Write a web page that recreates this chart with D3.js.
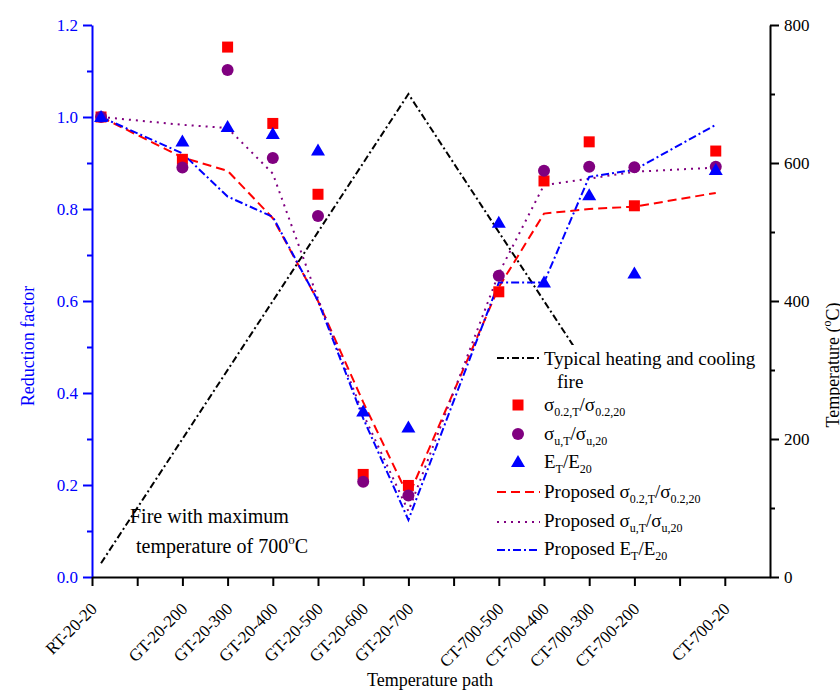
<!DOCTYPE html>
<html>
<head>
<meta charset="utf-8">
<script src="https://cdn.jsdelivr.net/npm/d3@7/dist/d3.min.js"></script>
<style>
body{margin:0;background:#fff}
text{font-family:"Liberation Serif","Times New Roman",serif}
</style>
</head>
<body>
<svg id="chart" width="840" height="700"></svg>
<script>
// temperature paths on the x axis
var categories = ["RT-20-20","GT-20-200","GT-20-300","GT-20-400","GT-20-500","GT-20-600","GT-20-700",
                  "CT-700-500","CT-700-400","CT-700-300","CT-700-200","CT-700-20"];
var labelPos = [0,2,3,4,5,6,7,9,10,11,12,14];
var pointPos = [0.2,2,3,4,5,6,7,9,10,11,12,13.8];

// test results
var sigma02 = [1.0,0.908,1.152,0.986,0.832,0.223,0.199,0.62,0.861,0.946,0.807,0.926];
var sigmaU  = [1.0,0.89,1.102,0.911,0.785,0.207,0.177,0.655,0.883,0.892,0.891,0.892];
var eRatio  = [1.0,0.947,0.978,0.963,0.927,0.36,0.325,0.77,0.64,0.83,0.66,0.885];

// proposed curves
var propSigma02 = [1.0,0.912,0.883,0.78,0.6,0.38,0.175,0.63,0.79,0.80,0.805,0.835];
var propSigmaU  = [1.0,0.983,0.976,0.877,0.605,0.354,0.143,0.66,0.852,0.866,0.881,0.89];
var propE       = [1.0,0.921,0.827,0.783,0.6,0.345,0.124,0.64,0.64,0.87,0.885,0.983];

// fire curve (right axis)
var firePos = [0.2,7,13.8];
var fireTemp = [20,700,20];

var yTicks = [0,0.2,0.4,0.6,0.8,1.0,1.2];
var yMinor = [0.1,0.3,0.5,0.7,0.9,1.1];
var tTicks = [0,200,400,600,800];
var tMinor = [100,300,500,700];

var svg = d3.select("#chart");
var mLeft = 92, mRight = 770, mTop = 25, mBottom = 577;

var x = d3.scaleLinear().domain([0,15]).range([mLeft,mRight]);
var y = d3.scaleLinear().domain([0,1.2]).range([mBottom,mTop]);
var yT = d3.scaleLinear().domain([0,800]).range([mBottom,mTop]);

// fire line first, legend box covers part of it
svg.append("path")
    .datum(d3.zip(firePos,fireTemp))
    .attr("d", d3.line().x(d=>x(d[0])).y(d=>yT(d[1])))
    .attr("fill","none").attr("stroke","#000").attr("stroke-width",2)
    .attr("stroke-dasharray","7,3,2,3");

var lines = [
  {vals:propSigma02, color:"#ff0000", dash:"9,5"},
  {vals:propSigmaU,  color:"#800080", dash:"2,5"},
  {vals:propE,       color:"#0000ff", dash:"8,3,2,3"}
];
var line = d3.line().x((d,i)=>x(pointPos[i])).y(d=>y(d));
lines.forEach(function(l){
  svg.append("path").datum(l.vals).attr("d",line)
    .attr("fill","none").attr("stroke",l.color).attr("stroke-width",2)
    .attr("stroke-dasharray",l.dash);
});

function square(g,cx,cy){ g.append("rect").attr("x",cx-5.5).attr("y",cy-5.5).attr("width",11).attr("height",11).attr("fill","#ff0000"); }
function circle(g,cx,cy){ g.append("circle").attr("cx",cx).attr("cy",cy).attr("r",6).attr("fill","#800080"); }
function triangle(g,cx,cy){ g.append("path").attr("d","M"+cx+","+(cy-7)+"L"+(cx+7)+","+(cy+5)+"L"+(cx-7)+","+(cy+5)+"Z").attr("fill","#0000ff"); }

var pts = svg.append("g");
sigma02.forEach((v,i)=>square(pts,x(pointPos[i]),y(v)));
sigmaU.forEach((v,i)=>circle(pts,x(pointPos[i]),y(v)));
eRatio.forEach((v,i)=>triangle(pts,x(pointPos[i]),y(v)));

// legend
var lg = svg.append("g");
lg.append("rect").attr("x",488).attr("y",345).attr("width",280).attr("height",222).attr("fill","#fff");
var lx0 = 497, lx1 = 540, tx = 544, fs = 19;
function sub(t,s,rest){ t.append("tspan").attr("font-size",12).attr("dy",5).text(s); t.append("tspan").attr("dy",-5).text(rest||""); }

lg.append("line").attr("x1",lx0).attr("x2",lx1).attr("y1",358).attr("y2",358)
  .attr("stroke","#000").attr("stroke-width",2).attr("stroke-dasharray","7,3,2,3");
lg.append("text").attr("x",tx).attr("y",365).attr("font-size",fs).text("Typical heating and cooling");
lg.append("text").attr("x",557).attr("y",388).attr("font-size",fs).text("fire");

square(lg,518,405);
var t1 = lg.append("text").attr("x",tx).attr("y",411).attr("font-size",fs).text("σ");
sub(t1,"0.2,T","/σ"); sub(t1,"0.2,20");
circle(lg,518,434);
var t2 = lg.append("text").attr("x",tx).attr("y",440).attr("font-size",fs).text("σ");
sub(t2,"u,T","/σ"); sub(t2,"u,20");
triangle(lg,518,462);
var t3 = lg.append("text").attr("x",tx).attr("y",468).attr("font-size",fs).text("E");
sub(t3,"T","/E"); sub(t3,"20");

var legLines = [{y:492,l:lines[0]},{y:522,l:lines[1]},{y:550,l:lines[2]}];
legLines.forEach(function(d){
  lg.append("line").attr("x1",lx0).attr("x2",lx1).attr("y1",d.y).attr("y2",d.y)
    .attr("stroke",d.l.color).attr("stroke-width",2).attr("stroke-dasharray",d.l.dash);
});
var t4 = lg.append("text").attr("x",tx).attr("y",498).attr("font-size",fs).text("Proposed σ");
sub(t4,"0.2,T","/σ"); sub(t4,"0.2,20");
var t5 = lg.append("text").attr("x",tx).attr("y",527).attr("font-size",fs).text("Proposed σ");
sub(t5,"u,T","/σ"); sub(t5,"u,20");
var t6 = lg.append("text").attr("x",tx).attr("y",555).attr("font-size",fs).text("Proposed E");
sub(t6,"T","/E"); sub(t6,"20");

// annotation
svg.append("text").attr("x",130).attr("y",523).attr("font-size",20).text("Fire with maximum");
var an = svg.append("text").attr("x",136).attr("y",553).attr("font-size",20).text("temperature of 700");
an.append("tspan").attr("font-size",13).attr("dy",-9).text("o");
an.append("tspan").attr("dy",9).text("C");

// axes
var gl = svg.append("g").attr("transform","translate("+mLeft+",0)")
  .call(d3.axisLeft(y).tickValues(yTicks).tickSize(9).tickSizeOuter(0).tickPadding(5).tickFormat(d3.format(".1f")));
var glm = svg.append("g").attr("transform","translate("+mLeft+",0)")
  .call(d3.axisLeft(y).tickValues(yMinor).tickSize(5).tickSizeOuter(0).tickFormat(""));
glm.select(".domain").remove();
gl.selectAll("line,path").attr("stroke","#0000ff").attr("stroke-width",2);
glm.selectAll("line").attr("stroke","#0000ff").attr("stroke-width",2);
gl.selectAll("text").attr("fill","#0000ff").attr("font-size",17).attr("font-family","Liberation Serif");

var gb = svg.append("g").attr("transform","translate(0,"+mBottom+")")
  .call(d3.axisBottom(x).tickValues(d3.range(0,15)).tickSize(9).tickSizeOuter(0).tickFormat(""));
gb.selectAll("line,path").attr("stroke","#000").attr("stroke-width",2);

var gr = svg.append("g").attr("transform","translate("+mRight+",0)")
  .call(d3.axisRight(yT).tickValues(tTicks).tickSize(9).tickSizeOuter(0).tickPadding(5));
var grm = svg.append("g").attr("transform","translate("+mRight+",0)")
  .call(d3.axisRight(yT).tickValues(tMinor).tickSize(5).tickSizeOuter(0).tickFormat(""));
grm.select(".domain").remove();
grm.selectAll("line").attr("stroke","#000").attr("stroke-width",2);
gr.selectAll("line,path").attr("stroke","#000").attr("stroke-width",2);
gr.selectAll("text").attr("fill","#000").attr("font-size",17).attr("font-family","Liberation Serif");

// rotated category labels
svg.append("g").selectAll("text").data(categories).join("text")
  .attr("transform",(d,i)=>"translate("+(x(labelPos[i])+6)+","+(mBottom+33)+") rotate(-45)")
  .attr("text-anchor","end").attr("font-size",17).text(d=>d);

// titles
svg.append("text").attr("transform","translate(34,346) rotate(-90)")
  .attr("text-anchor","middle").attr("font-size",18).attr("fill","#0000ff").text("Reduction factor");
var rt = svg.append("text").attr("transform","translate(839,365) rotate(-90)")
  .attr("text-anchor","middle").attr("font-size",18).text("Temperature (");
rt.append("tspan").attr("font-size",12).attr("dy",-8).text("o");
rt.append("tspan").attr("dy",8).text("C)");
svg.append("text").attr("x",430).attr("y",686).attr("text-anchor","middle").attr("font-size",18).text("Temperature path");
</script>
</body>
</html>
